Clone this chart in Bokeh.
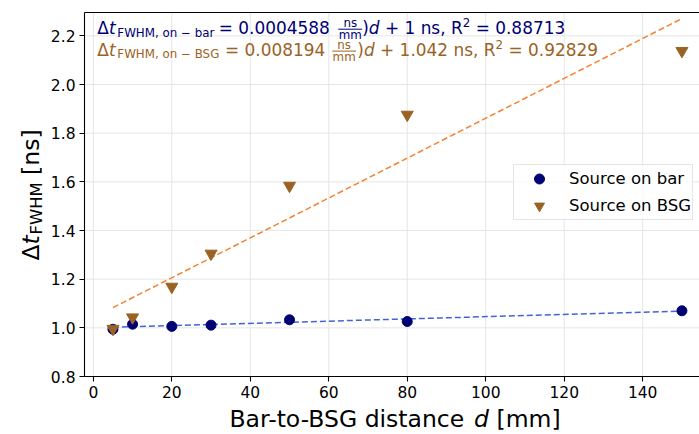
from bokeh.plotting import figure
from bokeh.models import Label, Legend, LegendItem, Range1d
from bokeh.embed import file_html
from bokeh.resources import INLINE

# ---------------- data ----------------
distance_mm = [5, 10, 20, 30, 50, 80, 150]
dt_on_bar_ns = [0.994, 1.015, 1.006, 1.011, 1.033, 1.026, 1.070]
dt_on_bsg_ns = [0.996, 1.043, 1.169, 1.305, 1.584, 1.876, 2.138]
fit_bar_slope, fit_bar_icpt, fit_bar_r2 = 0.0004588, 1.0, 0.88713
fit_bsg_slope, fit_bsg_icpt, fit_bsg_r2 = 0.008194, 1.042, 0.92829
x_ticks = [0, 20, 40, 60, 80, 100, 120, 140]
y_ticks = [0.8, 1.0, 1.2, 1.4, 1.6, 1.8, 2.0, 2.2]
series_labels = ["Source on bar", "Source on BSG"]

# ---------------- style ----------------
NAVY = "#000075"
BROWN = "#9A6324"
BLUE = "#4363d8"
ORANGE = "#f58231"
GRID = "#e6e6e6"
FONT = "DejaVu Sans"

W, H = 699, 434
# axes box in canvas pixels
FL, FT, FB = 84, 12, 376
# visible axis limits
AX_X0, AX_Y0, AX_Y1 = -2.25, 0.8, 2.296
XPX = 3.924                              # pixels per mm
YPX = (FB - FT) / (AX_Y1 - AX_Y0)       # pixels per ns
# the frame covers the whole canvas, so every text stays inside it
XA = AX_X0 - FL / XPX
XB = AX_X0 + (W - FL) / XPX
YA = AX_Y0 - (H - FB) / YPX
YB = AX_Y1 + FT / YPX
AX_X1 = XB

p = figure(width=W, height=H, output_backend="svg", toolbar_location=None,
           x_range=Range1d(XA, XB), y_range=Range1d(YA, YB), title=None,
           min_border_left=0, min_border_right=0, min_border_top=0,
           min_border_bottom=0)
p.outline_line_color = None
p.background_fill_color = "white"
p.border_fill_color = "white"
p.grid.visible = False

for ax in (p.xaxis, p.yaxis):
    ax.axis_line_color = "black"
    ax.axis_line_width = 1.1
    ax.major_tick_line_color = "black"
    ax.major_tick_line_width = 1.1
    ax.major_tick_out = 5
    ax.major_tick_in = 0
    ax.minor_tick_line_color = None
    ax.major_label_text_font = FONT
    ax.major_label_text_font_size = "15.5px"
    ax.major_label_text_color = "black"
    ax.major_label_standoff = 4
p.xaxis.ticker = x_ticks
p.yaxis.ticker = y_ticks
p.xaxis.fixed_location = AX_Y0
p.yaxis.fixed_location = AX_X0
p.xaxis.bounds = (AX_X0, AX_X1)
p.yaxis.bounds = (AX_Y0, AX_Y1)
p.yaxis.major_label_overrides = {v: f"{v:.1f}" for v in y_ticks}
p.xaxis.major_label_overrides = {v: f"{v:d}" for v in x_ticks}

# grid lines limited to the axes box
p.segment(x0=x_ticks, y0=[AX_Y0] * len(x_ticks), x1=x_ticks, y1=[AX_Y1] * len(x_ticks),
          line_color=GRID, line_width=1)
p.segment(x0=[AX_X0] * len(y_ticks), y0=y_ticks, x1=[AX_X1] * len(y_ticks), y1=y_ticks,
          line_color=GRID, line_width=1)
# top spine
p.segment(x0=[AX_X0], y0=[AX_Y1], x1=[AX_X1], y1=[AX_Y1], line_color="black", line_width=1.1)

# fit lines
xs_fit = [distance_mm[0], distance_mm[-1]]
p.line(xs_fit, [fit_bar_slope * x + fit_bar_icpt for x in xs_fit], line_color=BLUE,
       line_width=1.5, line_dash="6 3")
p.line(xs_fit, [fit_bsg_slope * x + fit_bsg_icpt for x in xs_fit], line_color=ORANGE,
       line_width=1.5, line_dash="6 3")

r_bar = p.scatter(distance_mm, dt_on_bar_ns, marker="circle", size=10, color=NAVY)
r_bsg = p.scatter(distance_mm, dt_on_bsg_ns, marker="inverted_triangle", size=12, color=BROWN)

legend = Legend(items=[LegendItem(label=series_labels[0], renderers=[r_bar]),
                       LegendItem(label=series_labels[1], renderers=[r_bsg])],
                location=(513, H - 220))
legend.glyph_width = 48
legend.glyph_height = 25
legend.label_standoff = 6
legend.spacing = 2
legend.padding = 1
legend.margin = 0
legend.border_line_color = "#cccccc"
legend.border_line_width = 1
legend.background_fill_alpha = 0.8
legend.label_text_font = FONT
legend.label_text_font_size = "16.5px"
legend.label_text_color = "black"
p.add_layout(legend)


def px2x(px):
    return XA + px * (XB - XA) / W


def py2y(py):
    return YB - py * (YB - YA) / H


BASE_SHIFT = 0.29  # em offset between Bokeh's alphabetic anchor and the glyph baseline


def put(text, px, py, size, color, style="normal", angle=0.0, align="left"):
    if angle == 0.0:
        py = py - BASE_SHIFT * size
    else:
        px = px - BASE_SHIFT * size
    p.add_layout(Label(x=px2x(px), y=py2y(py), text=text, text_font=FONT,
                       text_font_size=f"{size}px", text_font_style=style,
                       text_color=color, text_baseline="alphabetic",
                       text_align=align, angle=angle))


K = 1.016
F, S = 16.67 * K, 11.67 * K


def ex(px):
    return 96.8 + (px - 96.8) * K


def equation(base, color, who, slope, icpt, r2, x_eq, frac_l, frac_r, x_par, x_d, x_plus, x_sup, x_eqr):
    put("\u0394", ex(96.8), base, F, color)
    put("t", ex(108.2), base, F, color, "italic")
    put(f"FWHM, on \u2212 {who}", ex(116.5), base + 3, S, color)
    put(f"= {slope:g}", ex(x_eq), base, F, color)
    c = ex((frac_l + frac_r) / 2)
    put("ns", c, base - 6.6, S, color, align="center")
    put("mm", c, base + 5.2, S, color, align="center")
    p.segment(x0=[px2x(ex(frac_l))], y0=[py2y(base - 3.8)], x1=[px2x(ex(frac_r))],
              y1=[py2y(base - 3.8)], line_color=color, line_width=1)
    put(")", ex(x_par), base, F, color)
    put("d", ex(x_d), base, F, color, "italic")
    put(f"+ {icpt:g} ns, R", ex(x_plus), base, F, color)
    put("2", ex(x_sup), base - 7, S, color)
    put(f"= {r2:.5f}", ex(x_eqr), base, F, color)


equation(32.5, NAVY, "bar", fit_bar_slope, fit_bar_icpt, fit_bar_r2,
         216.3, 334, 357.5, 357.5, 364, 379.9, 456.5, 469.2)
equation(54.4, BROWN, "BSG", fit_bsg_slope, fit_bsg_icpt, fit_bsg_r2,
         222.5, 328, 351.5, 352.7, 359.2, 375.1, 488.8, 501.5)

# axis labels (piecewise for the italic d and the subscript)
L = 23.5
put("Bar-to-BSG distance", 229, 425.5, L, "black")
put("d", 473.5, 425.5, L, "black", "italic")
put("[mm]", 496, 425.5, L, "black")

A = 1.5707963267948966
put("\u0394", 37, 260, L, "black", angle=A)
put("t", 37, 244, L, "black", "italic", angle=A)
put("FWHM", 40.5, 234, 16.4, "black", angle=A)
put("[ns]", 37, 174.4, L, "black", angle=A)

open("out.html", "w").write(file_html(p, INLINE))
